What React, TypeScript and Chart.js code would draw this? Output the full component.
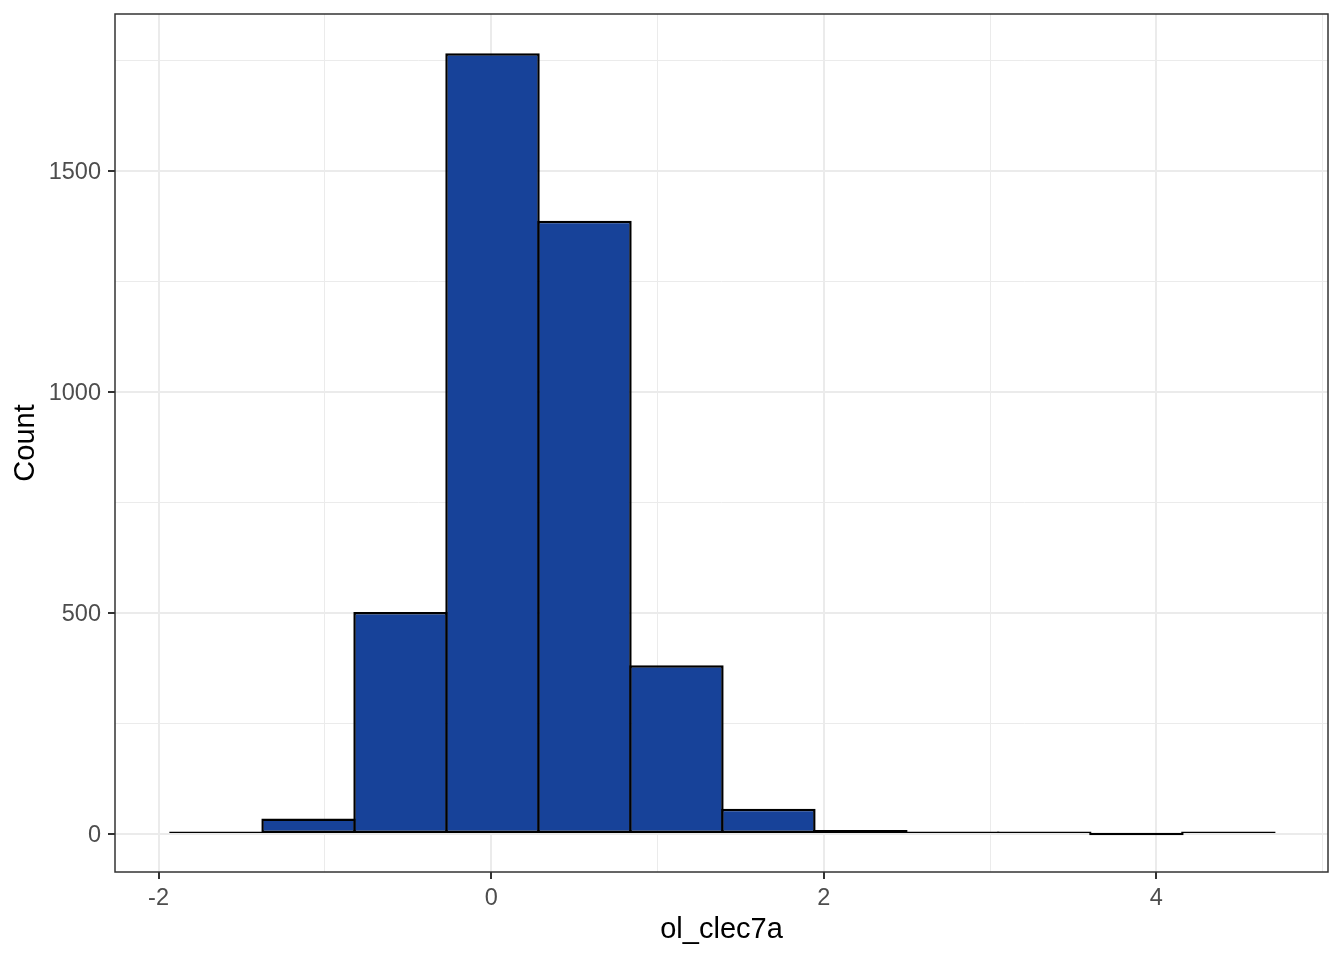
import React, { useEffect, useRef } from "react";
import { Chart, registerables } from "chart.js";

Chart.register(...registerables);

// Histogram bins (centres, in units of ol_clec7a) and counts
const binCenters = [-1.652, -1.098, -0.545, 0.008, 0.561, 1.114, 1.667, 2.220, 2.773, 3.326, 3.880, 4.433];
const counts = [1, 35, 502, 1766, 1387, 382, 57, 9, 4, 1, 0, 1];

// Major (labelled) and minor grid positions
const xTickValues = [-2, -1, 0, 1, 2, 3, 4, 5];
const xTickLabels = ["-2", "0", "2", "4"];
const yTickValues = [0, 250, 500, 750, 1000, 1250, 1500, 1750];
const yTickLabels = ["0", "500", "1000", "1500"];

const xTitle = "ol_clec7a";
const yTitle = "Count";

const X_MIN = -2.262;
const X_MAX = 5.032;
const Y_MIN = -86;
const Y_MAX = 1855;

const FONT = "'Liberation Sans', Arial, sans-serif";
const BAR_FILL = "#174299";
const GRID = "#EBEBEB";
const DARK = "#333333";
const BORDER_W = 2.5;

const panelBorder = {
  id: "panelBorder",
  afterDraw(chart: any) {
    const { ctx, chartArea: a } = chart;
    ctx.save();
    ctx.strokeStyle = DARK;
    ctx.lineWidth = 1.5;
    ctx.strokeRect(a.left, a.top, a.right - a.left, a.bottom - a.top);
    ctx.restore();
  },
};

export default function App() {
  const ref = useRef<HTMLCanvasElement | null>(null);

  useEffect(() => {
    if (!ref.current) return;
    const isMajorX = (v: number) => xTickLabels.includes(String(v));
    const isMajorY = (v: number) => yTickLabels.includes(String(v));

    const chart = new Chart(ref.current, {
      type: "bar",
      data: {
        datasets: [
          {
            data: binCenters.map((x, i) => ({ x, y: counts[i] })),
            backgroundColor: BAR_FILL,
            borderColor: "#000000",
            borderWidth: BORDER_W,
            borderSkipped: false,
            inflateAmount: 0,
            barPercentage: 1 + BORDER_W / 92,
            categoryPercentage: 1,
            minBarLength: 2.5,
            grouped: false,
          } as any,
        ],
      },
      options: {
        responsive: false,
        animation: false,
        devicePixelRatio: 1,
        layout: { padding: { top: 14, right: 16, bottom: 0, left: 0 } },
        plugins: {
          legend: { display: false },
          tooltip: { enabled: false },
        },
        scales: {
          x: {
            type: "linear",
            min: X_MIN,
            max: X_MAX,
            offset: false,
            afterBuildTicks: (s: any) => {
              s.ticks = xTickValues.map((value) => ({ value }));
            },
            afterFit: (s: any) => {
              s.height = 88;
              s.paddingLeft = 0;
              s.paddingRight = 0;
            },
            border: { display: false },
            grid: {
              offset: false,
              color: GRID,
              lineWidth: (c: any) => (isMajorX(c.tick.value) ? 2 : 1),
              tickColor: (c: any) => (isMajorX(c.tick.value) ? DARK : "rgba(0,0,0,0)"),
              tickWidth: 2,
              tickLength: 7,
              drawTicks: true,
            },
            ticks: {
              autoSkip: false,
              maxRotation: 0,
              padding: 5,
              color: "#4D4D4D",
              font: { family: FONT, size: 23.5 },
              callback: (v: any) => (isMajorX(Number(v)) ? String(v) : ""),
            },
            title: {
              display: true,
              text: xTitle,
              color: "#000000",
              font: { family: FONT, size: 29 },
              padding: { top: 0, bottom: 12.6 },
            },
          },
          y: {
            type: "linear",
            min: Y_MIN,
            max: Y_MAX,
            afterBuildTicks: (s: any) => {
              s.ticks = yTickValues.map((value) => ({ value }));
            },
            afterFit: (s: any) => {
              s.width = 115;
              s.paddingTop = 0;
              s.paddingBottom = 0;
            },
            border: { display: false },
            grid: {
              color: GRID,
              lineWidth: (c: any) => (isMajorY(c.tick.value) ? 2 : 1),
              tickColor: (c: any) => (isMajorY(c.tick.value) ? DARK : "rgba(0,0,0,0)"),
              tickWidth: 2,
              tickLength: 7,
              drawTicks: true,
            },
            ticks: {
              autoSkip: false,
              padding: 7,
              labelOffset: 1.5,
              color: "#4D4D4D",
              font: { family: FONT, size: 23.5 },
              callback: (v: any) => (isMajorY(Number(v)) ? String(v) : ""),
            },
            title: {
              display: true,
              text: yTitle,
              color: "#000000",
              font: { family: FONT, size: 29 },
              padding: { top: 8.3, bottom: 0 },
            },
          },
        },
      },
      plugins: [panelBorder],
    });
    return () => chart.destroy();
  }, []);

  return (
    <div style={{ position: "absolute", left: 0, top: 0, width: 1344, height: 960, background: "#ffffff" }}>
      <canvas ref={ref} width={1344} height={960} style={{ display: "block" }} />
    </div>
  );
}
